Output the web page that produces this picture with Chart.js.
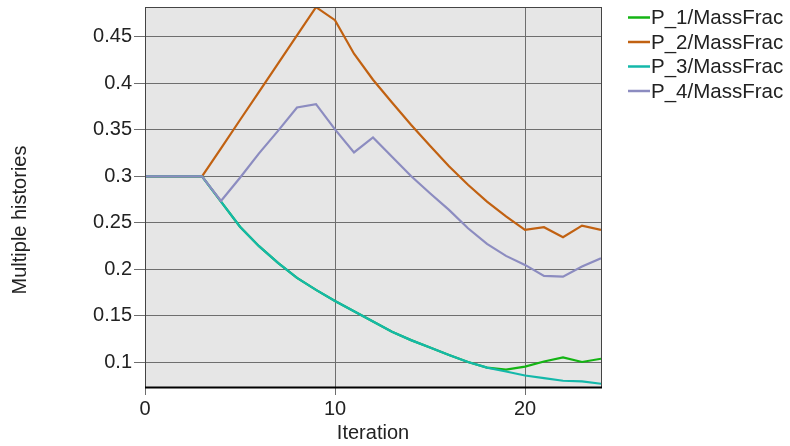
<!DOCTYPE html>
<html><head><meta charset="utf-8">
<script src="https://cdn.jsdelivr.net/npm/chart.js@4.4.1/dist/chart.umd.min.js"></script>
<style>html,body{margin:0;padding:0;background:#fff}#wrap{width:790px;height:446px;position:relative}</style>
</head><body><div id="wrap"><canvas id="c"></canvas></div>
<script>
const iterations = [0,1,2,3,4,5,6,7,8,9,10,11,12,13,14,15,16,17,18,19,20,21,22,23,24];
const p1MassFrac = [0.3,0.3,0.3,0.3,0.273,0.246,0.225,0.207,0.191,0.178,0.166,0.155,0.144,0.133,0.124,0.116,0.108,0.1005,0.0945,0.0922,0.0955,0.101,0.1055,0.1005,0.104];
const p2MassFrac = [0.3,0.3,0.3,0.3,0.3303,0.3607,0.391,0.4213,0.4517,0.482,0.468,0.432,0.404,0.3795,0.3555,0.333,0.311,0.291,0.273,0.257,0.2425,0.2454,0.2346,0.2471,0.2425];
const p3MassFrac = [0.3,0.3,0.3,0.3,0.273,0.246,0.225,0.207,0.191,0.178,0.166,0.155,0.144,0.133,0.124,0.116,0.108,0.1005,0.0945,0.0903,0.086,0.0832,0.0803,0.0796,0.0771];
const p4MassFrac = [0.3,0.3,0.3,0.3,0.2736,0.2986,0.3248,0.349,0.3742,0.3778,0.3506,0.3259,0.342,0.3212,0.3005,0.2819,0.264,0.2443,0.2274,0.2146,0.2049,0.1931,0.1923,0.2031,0.2121];
const seriesNames = ['P_1/MassFrac','P_2/MassFrac','P_3/MassFrac','P_4/MassFrac'];
const seriesValues = [p1MassFrac,p2MassFrac,p3MassFrac,p4MassFrac];
const seriesColors = ['#14b414','#c16111','#14b8aa','#8c8cc0'];
const xTitle = 'Iteration';
const yTitle = 'Multiple histories';

const FONT = '"Liberation Sans", Arial, sans-serif';
const TEXT = '#222';

const datasets = seriesValues.map((vals,i)=>({
  label: seriesNames[i],
  data: iterations.map((x,j)=>({x:x,y:vals[j]})),
  borderColor: seriesColors[i],
  backgroundColor: seriesColors[i],
  borderWidth: 2.2,
  pointRadius: 0,
  tension: 0,
  fill: false,
  order: 4 - i
}));

const decor = {
  id: 'decor',
  beforeDraw(chart){
    const {ctx, chartArea:a} = chart;
    ctx.save();
    ctx.fillStyle = '#e6e6e6';
    ctx.fillRect(a.left, a.top, a.right-a.left, a.bottom-a.top);
    ctx.restore();
  },
  afterDraw(chart){
    const {ctx, chartArea:a} = chart;
    ctx.save();
    ctx.strokeStyle = '#444';
    ctx.lineWidth = 1;
    ctx.strokeRect(Math.round(a.left)+0.5, Math.round(a.top)+0.5, Math.round(a.right-a.left), Math.round(a.bottom-a.top));
    ctx.strokeStyle = '#000';
    ctx.lineWidth = 2;
    ctx.beginPath();
    ctx.moveTo(a.left, Math.round(a.bottom)+0.5);
    ctx.lineTo(a.right+1, Math.round(a.bottom)+0.5);
    ctx.stroke();
    // legend
    ctx.font = '20.5px ' + FONT;
    ctx.textBaseline = 'middle';
    ctx.textAlign = 'left';
    seriesNames.forEach((n,i)=>{
      const y = 17.5 + 24.5*i;
      ctx.strokeStyle = seriesColors[i];
      ctx.lineWidth = 2.5;
      ctx.beginPath(); ctx.moveTo(628, y); ctx.lineTo(650, y); ctx.stroke();
      ctx.fillStyle = TEXT;
      ctx.fillText(n, 651, y+1);
    });
    // axis titles
    ctx.font = '20px ' + FONT;
    ctx.textAlign = 'center';
    ctx.fillText(xTitle, (a.left+a.right)/2, 433);
    ctx.save();
    ctx.translate(20, 220);
    ctx.rotate(-Math.PI/2);
    ctx.fillText(yTitle, 0, 0);
    ctx.restore();
    ctx.restore();
  }
};

new Chart(document.getElementById('c'), {
  type: 'line',
  data: { datasets },
  options: {
    responsive: true,
    maintainAspectRatio: false,
    animation: false,
    layout: { padding: { left: 0, top: 7, right: 189, bottom: 0 } },
    plugins: { legend: { display: false }, tooltip: { enabled: false } },
    scales: {
      x: {
        type: 'linear', min: 0, max: 24,
        afterFit(s){ s.height = 59; s.paddingLeft = 0; s.paddingRight = 0; },
        ticks: { stepSize: 10, includeBounds: false, color: TEXT, font: { family: FONT, size: 20 }, padding: 2, maxRotation: 0 },
        grid: { color: '#6e6e6e', lineWidth: 1, tickLength: 8, drawTicks: true },
        border: { display: false }
      },
      y: {
        type: 'linear', min: 0.0736, max: 0.4822,
        afterFit(s){ s.width = 145; s.paddingTop = 0; s.paddingBottom = 0; },
        ticks: { stepSize: 0.05, includeBounds: false, color: TEXT, font: { family: FONT, size: 20 }, padding: 2,
          callback: v => String(+Number(v).toFixed(2)) },
        grid: { color: '#6e6e6e', lineWidth: 1, tickLength: 11, drawTicks: true },
        border: { display: false }
      }
    }
  },
  plugins: [decor]
});
</script>
</body></html>
